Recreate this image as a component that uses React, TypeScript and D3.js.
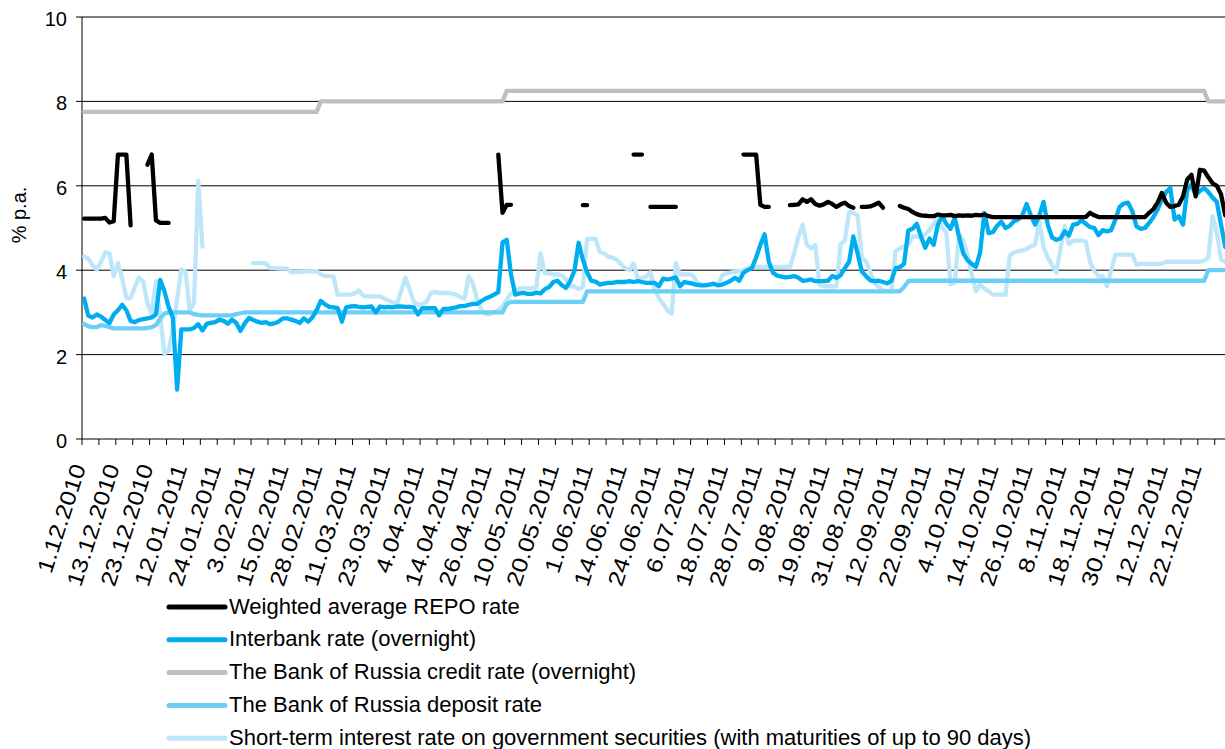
import React from "react";
import * as d3 from "d3";

const _ = null;

const tickLabels = [
  "1.12.2010", "13.12.2010", "23.12.2010", "12.01.2011", "24.01.2011", "3.02.2011",
  "15.02.2011", "28.02.2011", "11.03.2011", "23.03.2011", "4.04.2011", "14.04.2011",
  "26.04.2011", "10.05.2011", "20.05.2011", "1.06.2011", "14.06.2011", "24.06.2011",
  "6.07.2011", "18.07.2011", "28.07.2011", "9.08.2011", "19.08.2011", "31.08.2011",
  "12.09.2011", "22.09.2011", "4.10.2011", "14.10.2011", "26.10.2011", "8.11.2011",
  "18.11.2011", "30.11.2011", "12.12.2011", "22.12.2011",
];

const seriesNames = [
  "Weighted average REPO rate",
  "Interbank rate (overnight)",
  "The Bank of Russia credit rate (overnight)",
  "The Bank of Russia deposit rate",
  "Short-term interest rate on government securities (with maturities of up to 90 days)",
];

const yTickValues = [0, 2, 4, 6, 8, 10];

// Weighted average REPO rate (one value per trading day, null = no data)
const repoRate: (number | null)[] = [
  5.22, 5.22, 5.22, 5.22, 5.22, 5.24, 5.13, 5.16, 6.74, 6.74,
  6.74, 5.06, _, _, _, 6.5, 6.74, 5.18, 5.12, 5.12,
  5.12, _, _, _, _, _, _, _, _, _,
  _, _, _, _, _, _, _, _, _, _,
  _, _, _, _, _, _, _, _, _, _,
  _, _, _, _, _, _, _, _, _, _,
  _, _, _, _, _, _, _, _, _, _,
  _, _, _, _, _, _, _, _, _, _,
  _, _, _, _, _, _, _, _, _, _,
  _, _, _, _, _, _, _, _, 6.74, 5.36,
  5.55, 5.55, _, _, _, _, _, _, _, _,
  _, _, _, _, _, _, _, _, 5.54, 5.54,
  _, _, _, _, _, _, _, _, _, _,
  6.74, 6.74, 6.74, _, 5.5, 5.5, 5.5, 5.5, 5.5, 5.5,
  5.5, _, _, _, _, _, _, _, _, _,
  _, _, _, _, _, _, 6.74, 6.74, 6.74, 6.74,
  5.55, 5.5, 5.5, _, _, _, _, 5.54, 5.55, 5.56,
  5.68, 5.62, 5.68, 5.57, 5.53, 5.56, 5.62, 5.57, 5.5, 5.56,
  5.6, 5.52, 5.48, _, 5.5, 5.5, 5.51, 5.55, 5.6, 5.48,
  _, _, _, 5.52, 5.48, 5.45, 5.38, 5.33, 5.3, 5.29,
  5.28, 5.28, 5.32, 5.3, 5.3, 5.31, 5.28, 5.3, 5.29, 5.3,
  5.29, 5.31, 5.3, 5.32, 5.28, 5.26, 5.26, 5.26, 5.26, 5.26,
  5.26, 5.26, 5.26, 5.26, 5.26, 5.26, 5.26, 5.26, 5.26, 5.26,
  5.26, 5.26, 5.26, 5.26, 5.26, 5.26, 5.26, 5.26, 5.36, 5.3,
  5.26, 5.26, 5.26, 5.26, 5.26, 5.26, 5.26, 5.26, 5.26, 5.26,
  5.26, 5.26, 5.36, 5.45, 5.6, 5.83, 5.6, 5.5, 5.52, 5.55,
  5.75, 6.15, 6.26, 5.75, 6.38, 6.36, 6.2, 6.06, 6.0, 5.8,
  5.3,
];

// Interbank rate (overnight)
const interbankRate: number[] = [
  3.33, 2.92, 2.88, 2.95, 2.9, 2.82, 2.75, 2.95, 3.05, 3.18,
  3.05, 2.8, 2.77, 2.82, 2.84, 2.86, 2.88, 2.95, 3.77, 3.5,
  3.13, 2.88, 1.17, 2.6, 2.6, 2.6, 2.63, 2.72, 2.57, 2.73,
  2.75, 2.77, 2.83, 2.8, 2.73, 2.83, 2.75, 2.56, 2.74, 2.87,
  2.82, 2.78, 2.75, 2.77, 2.72, 2.74, 2.78, 2.86, 2.86, 2.83,
  2.8, 2.75, 2.86, 2.78, 2.88, 3.05, 3.27, 3.19, 3.13, 3.12,
  3.1, 2.78, 3.12, 3.14, 3.15, 3.13, 3.12, 3.13, 3.14, 3.0,
  3.14, 3.12, 3.13, 3.12, 3.14, 3.14, 3.13, 3.13, 3.12, 2.95,
  3.1, 3.1, 3.1, 3.1, 2.93, 3.08, 3.08, 3.1, 3.12, 3.15,
  3.15, 3.18, 3.2, 3.2, 3.27, 3.33, 3.37, 3.42, 3.48, 4.66,
  4.72, 3.9, 3.42, 3.45, 3.46, 3.44, 3.44, 3.47, 3.45, 3.55,
  3.6, 3.72, 3.75, 3.65, 3.58, 3.74, 3.98, 4.65, 4.25, 3.95,
  3.75, 3.73, 3.66, 3.68, 3.7, 3.7, 3.72, 3.72, 3.72, 3.74,
  3.72, 3.74, 3.72, 3.7, 3.7, 3.7, 3.62, 3.8, 3.78, 3.8,
  3.83, 3.62, 3.72, 3.7, 3.68, 3.65, 3.64, 3.64, 3.66, 3.68,
  3.64, 3.66, 3.7, 3.75, 3.82, 3.75, 3.94, 4.0, 4.05, 4.3,
  4.6, 4.85, 4.2, 3.94, 3.87, 3.85, 3.83, 3.84, 3.86, 3.82,
  3.75, 3.76, 3.78, 3.74, 3.74, 3.74, 3.75, 3.86, 3.82, 3.88,
  4.05, 4.2, 4.8, 4.4, 3.97, 3.86, 3.76, 3.74, 3.75, 3.72,
  3.69, 3.75, 4.05, 4.07, 4.15, 4.94, 4.98, 5.1, 4.8, 4.53,
  4.75, 4.6, 5.08, 5.28, 5.1, 4.98, 5.24, 4.8, 4.4, 4.24,
  4.15, 4.08, 4.42, 5.36, 4.88, 4.9, 5.05, 5.15, 5.0, 5.05,
  5.16, 5.2, 5.3, 5.57, 5.3, 5.08, 5.3, 5.62, 5.08, 4.78,
  4.72, 4.75, 4.92, 4.82, 5.08, 5.1, 5.18, 5.1, 5.02, 5.0,
  4.83, 4.95, 4.92, 4.95, 5.2, 5.5, 5.58, 5.6, 5.4, 5.04,
  4.98, 5.0, 5.12, 5.26, 5.44, 5.68, 5.85, 5.95, 5.2, 5.28,
  5.08, 5.9, 6.03, 5.78, 5.88, 5.95, 5.85, 5.72, 5.62, 5.08,
  4.55,
];

// The Bank of Russia credit rate (overnight)
const creditRate: number[] = [
  7.75, 7.75, 7.75, 7.75, 7.75, 7.75, 7.75, 7.75, 7.75, 7.75,
  7.75, 7.75, 7.75, 7.75, 7.75, 7.75, 7.75, 7.75, 7.75, 7.75,
  7.75, 7.75, 7.75, 7.75, 7.75, 7.75, 7.75, 7.75, 7.75, 7.75,
  7.75, 7.75, 7.75, 7.75, 7.75, 7.75, 7.75, 7.75, 7.75, 7.75,
  7.75, 7.75, 7.75, 7.75, 7.75, 7.75, 7.75, 7.75, 7.75, 7.75,
  7.75, 7.75, 7.75, 7.75, 7.75, 7.75, 8, 8, 8, 8,
  8, 8, 8, 8, 8, 8, 8, 8, 8, 8,
  8, 8, 8, 8, 8, 8, 8, 8, 8, 8,
  8, 8, 8, 8, 8, 8, 8, 8, 8, 8,
  8, 8, 8, 8, 8, 8, 8, 8, 8, 8,
  8.25, 8.25, 8.25, 8.25, 8.25, 8.25, 8.25, 8.25, 8.25, 8.25,
  8.25, 8.25, 8.25, 8.25, 8.25, 8.25, 8.25, 8.25, 8.25, 8.25,
  8.25, 8.25, 8.25, 8.25, 8.25, 8.25, 8.25, 8.25, 8.25, 8.25,
  8.25, 8.25, 8.25, 8.25, 8.25, 8.25, 8.25, 8.25, 8.25, 8.25,
  8.25, 8.25, 8.25, 8.25, 8.25, 8.25, 8.25, 8.25, 8.25, 8.25,
  8.25, 8.25, 8.25, 8.25, 8.25, 8.25, 8.25, 8.25, 8.25, 8.25,
  8.25, 8.25, 8.25, 8.25, 8.25, 8.25, 8.25, 8.25, 8.25, 8.25,
  8.25, 8.25, 8.25, 8.25, 8.25, 8.25, 8.25, 8.25, 8.25, 8.25,
  8.25, 8.25, 8.25, 8.25, 8.25, 8.25, 8.25, 8.25, 8.25, 8.25,
  8.25, 8.25, 8.25, 8.25, 8.25, 8.25, 8.25, 8.25, 8.25, 8.25,
  8.25, 8.25, 8.25, 8.25, 8.25, 8.25, 8.25, 8.25, 8.25, 8.25,
  8.25, 8.25, 8.25, 8.25, 8.25, 8.25, 8.25, 8.25, 8.25, 8.25,
  8.25, 8.25, 8.25, 8.25, 8.25, 8.25, 8.25, 8.25, 8.25, 8.25,
  8.25, 8.25, 8.25, 8.25, 8.25, 8.25, 8.25, 8.25, 8.25, 8.25,
  8.25, 8.25, 8.25, 8.25, 8.25, 8.25, 8.25, 8.25, 8.25, 8.25,
  8.25, 8.25, 8.25, 8.25, 8.25, 8.25, 8.25, 8.25, 8.25, 8.25,
  8.25, 8.25, 8.25, 8.25, 8.25, 8.25, 8, 8, 8, 8,
  8,
];

// The Bank of Russia deposit rate
const depositRate: number[] = [
  2.73, 2.67, 2.65, 2.65, 2.7, 2.68, 2.65, 2.62, 2.62, 2.62,
  2.62, 2.62, 2.62, 2.62, 2.62, 2.63, 2.65, 2.7, 2.85, 2.97,
  3, 3, 3, 3, 3, 3, 2.96, 2.94, 2.93, 2.93,
  2.93, 2.93, 2.93, 2.93, 2.93, 2.93, 2.96, 2.98, 3, 3,
  3, 3, 3, 3, 3, 3, 3, 3, 3, 3,
  3, 3, 3, 3, 3, 3, 3, 3, 3, 3,
  3, 3, 3, 3, 3, 3, 3, 3, 3, 3,
  3, 3, 3, 3, 3, 3, 3, 3, 3, 3,
  3, 3, 3, 3, 3, 3, 3, 3, 3, 3,
  3, 3, 3, 3, 3, 3, 3, 3, 3, 3,
  3.2, 3.25, 3.25, 3.25, 3.25, 3.25, 3.25, 3.25, 3.25, 3.25,
  3.25, 3.25, 3.25, 3.25, 3.25, 3.25, 3.25, 3.25, 3.25, 3.5,
  3.5, 3.5, 3.5, 3.5, 3.5, 3.5, 3.5, 3.5, 3.5, 3.5,
  3.5, 3.5, 3.5, 3.5, 3.5, 3.5, 3.5, 3.5, 3.5, 3.5,
  3.5, 3.5, 3.5, 3.5, 3.5, 3.5, 3.5, 3.5, 3.5, 3.5,
  3.5, 3.5, 3.5, 3.5, 3.5, 3.5, 3.5, 3.5, 3.5, 3.5,
  3.5, 3.5, 3.5, 3.5, 3.5, 3.5, 3.5, 3.5, 3.5, 3.5,
  3.5, 3.5, 3.5, 3.5, 3.5, 3.5, 3.5, 3.5, 3.5, 3.5,
  3.5, 3.5, 3.5, 3.5, 3.5, 3.5, 3.5, 3.5, 3.5, 3.5,
  3.5, 3.5, 3.5, 3.5, 3.6, 3.74, 3.75, 3.75, 3.75, 3.75,
  3.75, 3.75, 3.75, 3.75, 3.75, 3.75, 3.75, 3.75, 3.75, 3.75,
  3.75, 3.75, 3.75, 3.75, 3.75, 3.75, 3.75, 3.75, 3.75, 3.75,
  3.75, 3.75, 3.75, 3.75, 3.75, 3.75, 3.75, 3.75, 3.75, 3.75,
  3.75, 3.75, 3.75, 3.75, 3.75, 3.75, 3.75, 3.75, 3.75, 3.75,
  3.75, 3.75, 3.75, 3.75, 3.75, 3.75, 3.75, 3.75, 3.75, 3.75,
  3.75, 3.75, 3.75, 3.75, 3.75, 3.75, 3.75, 3.75, 3.75, 3.75,
  3.75, 3.75, 3.75, 3.75, 3.75, 3.75, 4, 4, 4, 4,
  4,
];

// Short-term interest rate on government securities (up to 90 days)
const shortTermRate: (number | null)[] = [
  4.33, 4.27, 4.12, 4.02, 4.2, 4.42, 4.4, 3.86, 4.17, 3.8,
  3.34, 3.34, 3.6, 3.82, 3.72, 3.2, 2.98, 3.74, 2.9, 2.02,
  2.1, 2.6, 3.3, 4.02, 3.96, 3.05, 3.22, 6.12, 4.56, _,
  _, _, _, _, _, _, _, _, _, _,
  4.17, 4.17, 4.17, 4.17, 4.05, 4.05, 4.04, 4.04, 4.04, 3.95,
  3.96, 3.96, 3.97, 3.97, 3.97, 3.98, 3.9, 3.86, 3.86, 3.85,
  3.42, 3.42, 3.42, 3.42, 3.45, 3.52, 3.4, 3.38, 3.38, 3.38,
  3.38, 3.33, 3.28, 3.24, 3.19, 3.5, 3.82, 3.55, 3.25, 3.18,
  3.2, 3.25, 3.45, 3.49, 3.46, 3.46, 3.46, 3.45, 3.42, 3.36,
  3.33, 3.85, 3.68, 3.3, 3.06, 2.96, 2.96, 3.0, 3.05, 3.15,
  3.3, 3.45, 3.52, 3.57, 3.57, 3.57, 3.57, 3.6, 4.4, 3.93,
  3.93, 3.9, 3.9, 3.88, 3.78, 3.62, 3.62, 3.55, 3.6, 4.74,
  4.74, 4.74, 4.44, 4.4, 4.32, 4.3, 4.25, 4.15, 4.05, 4.0,
  4.16, 3.8, 3.82, 3.85, 3.95, 3.55, 3.34, 3.2, 3.05, 2.97,
  4.17, 3.9, 3.9, 3.9, 3.88, 3.72, 3.66, 3.66, 3.66, 3.66,
  3.66, 3.88, 3.92, 3.94, 3.96, 3.98, 4.0, 4.05, 4.07, 4.08,
  4.08, 4.08, 4.08, 4.08, 4.08, 4.08, 4.08, 4.08, 4.4, 4.8,
  5.08, 4.6, 4.52, 4.6, 3.65, 3.62, 3.62, 3.62, 3.62, 4.62,
  4.7, 5.38, 5.36, 5.3, 4.3, 4.2, 3.98, 3.7, 3.6, 3.52,
  3.5, 3.5, 4.45, 4.52, 4.56, 4.6, 4.8, 4.8, 4.78, 4.85,
  4.95, 5.1, 5.24, 5.0, 4.9, 3.66, 3.7, 4.85, 4.7, 4.37,
  3.9, 3.5, 3.66, 3.56, 3.5, 3.42, 3.42, 3.42, 3.42, 4.35,
  4.42, 4.45, 4.47, 4.5, 4.57, 4.6, 5.16, 4.55, 4.3, 4.13,
  3.94, 4.5, 5.05, 4.62, 4.7, 4.7, 4.7, 4.68, 4.2, 3.98,
  3.86, 3.86, 3.62, 4.0, 4.37, 4.37, 4.37, 4.37, 4.37, 4.13,
  4.15, 4.15, 4.15, 4.15, 4.15, 4.15, 4.2, 4.2, 4.2, 4.2,
  4.2, 4.2, 4.2, 4.2, 4.2, 4.22, 4.3, 5.28, 4.9, 4.25,
  4.2,
];

const COLORS = {
  repo: "#000000",
  interbank: "#00aeef",
  credit: "#bfbfbf",
  deposit: "#6dcff6",
  shortTerm: "#bde6f9",
};

function labelEm(s: string): number {
  let em = 0;
  for (const ch of s) em += ch === "." ? 0.278 : 0.556;
  return em;
}

export default function App() {
  const N = creditRate.length;
  const left = 82;
  const top = 17;
  const bottom = 439;
  const band = 4.2265;

  const x = d3
    .scaleBand<number>()
    .domain(d3.range(N))
    .range([left, left + N * band])
    .paddingInner(0)
    .paddingOuter(0);
  const y = d3.scaleLinear().domain([0, 10]).range([bottom, top]);
  const cx = (i: number) => (x(i) as number) + x.bandwidth() / 2;

  const lineGen = d3
    .line<number | null>()
    .defined((d) => d !== null && d !== undefined)
    .x((_d, i) => cx(i))
    .y((d) => y(d as number));

  const drawSeries = [
    { data: shortTermRate, color: COLORS.shortTerm },
    { data: depositRate, color: COLORS.deposit },
    { data: creditRate, color: COLORS.credit },
    { data: interbankRate, color: COLORS.interbank },
    { data: repoRate, color: COLORS.repo },
  ];

  const legendItems = [
    { name: seriesNames[0], color: COLORS.repo },
    { name: seriesNames[1], color: COLORS.interbank },
    { name: seriesNames[2], color: COLORS.credit },
    { name: seriesNames[3], color: COLORS.deposit },
    { name: seriesNames[4], color: COLORS.shortTerm },
  ];

  const xRight = left + N * band;
  const tickIdx = d3.range(0, N + 1, 4);

  return (
    <svg
      width={1225}
      height={749}
      style={{ position: "absolute", left: 0, top: 0, background: "#ffffff" }}
      fontFamily="'Liberation Sans', Arial, Helvetica, sans-serif"
    >
      <rect x={0} y={0} width={1225} height={749} fill="#ffffff" />
      {/* gridlines */}
      {yTickValues
        .filter((v) => v !== 0)
        .map((v) => (
          <line key={"g" + v} x1={left} x2={xRight} y1={y(v)} y2={y(v)} stroke="#000" strokeWidth={1} />
        ))}
      {/* y axis */}
      <line x1={left} x2={left} y1={top} y2={bottom} stroke="#000" strokeWidth={1} />
      {yTickValues.map((v) => (
        <g key={"yt" + v}>
          <line x1={left - 6} x2={left} y1={y(v)} y2={y(v)} stroke="#000" strokeWidth={1} />
          <text x={67} y={y(v) + 9} textAnchor="end" fontSize={20} fill="#000">
            {v}
          </text>
        </g>
      ))}
      <text transform="translate(26,215) rotate(-90)" textAnchor="middle" fontSize={20} fill="#000">
        % p.a.
      </text>
      {/* x axis */}
      <line x1={left} x2={xRight} y1={bottom} y2={bottom} stroke="#000" strokeWidth={1} />
      {tickIdx.map((k) => (
        <line
          key={"xt" + k}
          x1={left + k * band}
          x2={left + k * band}
          y1={bottom}
          y2={bottom + 6}
          stroke="#000"
          strokeWidth={1}
        />
      ))}
      {tickLabels.map((lab, j) => {
        const i = j * 8;
        return (
          <text
            key={"xl" + j}
            transform={`translate(${cx(i) + 2},467) rotate(-72)`}
            textAnchor="end"
            fontSize={22}
            textLength={labelEm(lab) * 25.4}
            lengthAdjust="spacingAndGlyphs"
            fill="#000"
          >
            {lab}
          </text>
        );
      })}
      {/* series */}
      {drawSeries.map((s, k) => (
        <path
          key={"s" + k}
          d={lineGen(s.data as (number | null)[]) || ""}
          fill="none"
          stroke={s.color}
          strokeWidth={4.3}
          strokeLinejoin="round"
          strokeLinecap="round"
        />
      ))}
      {/* legend */}
      {legendItems.map((it, k) => {
        const ly = 607 + k * 32.8;
        return (
          <g key={"lg" + k}>
            <line x1={169} x2={225} y1={ly} y2={ly} stroke={it.color} strokeWidth={5} strokeLinecap="round" />
            <text x={229} y={ly + 6.5} fontSize={22} fill="#000">
              {it.name}
            </text>
          </g>
        );
      })}
    </svg>
  );
}
